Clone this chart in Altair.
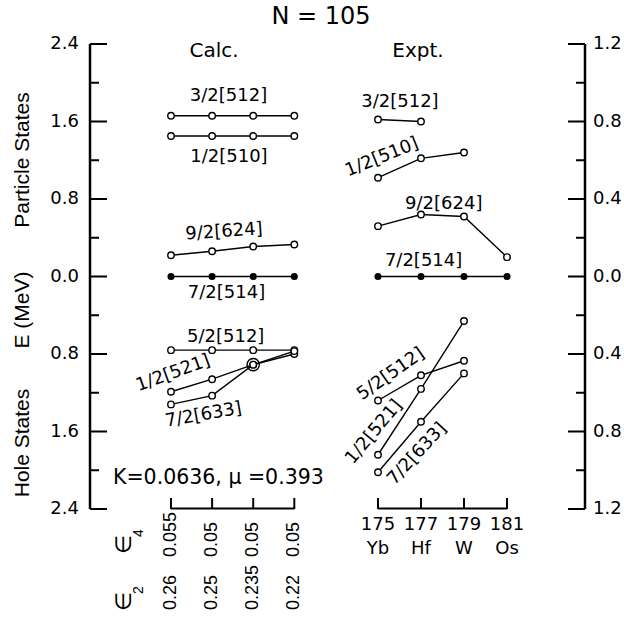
import altair as alt
import pandas as pd

FONT_H = "DejaVu Sans"      # horizontal text
FONT_V = "Liberation Sans"  # rotated text

# ---- columns -------------------------------------------------------------
cols = [0, 1, 2, 3]
eps4 = ["0.055", "0.05", "0.05", "0.05"]
eps2 = ["0.26", "0.25", "0.235", "0.22"]
mass = ["175", "177", "179", "181"]
element = ["Yb", "Hf", "W", "Os"]

states = ["3/2[512]", "1/2[510]", "9/2[624]", "7/2[514]",
          "5/2[512]", "1/2[521]", "7/2[633]"]
ground = "7/2[514]"

# ---- calculated energies (MeV), hole states negative ---------------------
calc_32_512 = [1.66, 1.66, 1.66, 1.66]
calc_12_510 = [1.45, 1.45, 1.45, 1.45]
calc_92_624 = [0.22, 0.26, 0.31, 0.33]
calc_72_514 = [0.0, 0.0, 0.0, 0.0]
calc_52_512 = [-0.76, -0.76, -0.76, -0.76]
calc_12_521 = [-1.19, -1.06, -0.91, -0.80]
calc_72_633 = [-1.32, -1.23, -0.91, -0.77]

# ---- experimental energies (MeV), None = not observed --------------------
expt_32_512 = [0.81, 0.80, None, None]
expt_12_510 = [0.51, 0.61, 0.64, None]
expt_92_624 = [0.26, 0.32, 0.31, 0.10]
expt_72_514 = [0.0, 0.0, 0.0, 0.0]
expt_52_512 = [-0.64, -0.51, -0.435, None]
expt_12_521 = [-0.92, -0.58, -0.23, None]
expt_72_633 = [-1.01, -0.75, -0.50, None]

# ---- axis ticks ----------------------------------------------------------
left_major = [-2.4, -1.6, -0.8, 0.0, 0.8, 1.6, 2.4]
left_minor = [-2.0, -1.2, -0.4, 0.4, 1.2, 2.0]
right_major = [-1.2, -0.8, -0.4, 0.0, 0.4, 0.8, 1.2]
right_minor = [-1.0, -0.6, -0.2, 0.2, 0.6, 1.0]

# ---- label placement (column units, MeV, rotation) -----------------------
calc_label_col = [1.40, 1.41, 1.29, 1.35, 1.33, 0.05, 0.79]
calc_label_E = [1.86, 1.23, 0.46, -0.17, -0.62, -1.00, -1.43]
calc_label_angle = [0, 0, 356, 0, 0, 340, 350]
expt_label_col = [0.51, 0.09, 1.53, 1.06, 0.30, -0.09, 0.91]
expt_label_E = [0.90, 0.615, 0.376, 0.079, -0.504, -0.803, -0.916]
expt_label_angle = [0, 338, 0, 0, 325, 310, 313]

W, H = 495, 465


def long_table(series):
    rows = []
    for s, vals in zip(states, series):
        for c, v in zip(cols, vals):
            if v is not None:
                rows.append({"state": s, "col": c, "E": v})
    return pd.DataFrame(rows)


calc_df = long_table([calc_32_512, calc_12_510, calc_92_624, calc_72_514,
                      calc_52_512, calc_12_521, calc_72_633])
expt_df = long_table([expt_32_512, expt_12_510, expt_92_624, expt_72_514,
                      expt_52_512, expt_12_521, expt_72_633])


def crossings(df):
    g = df.groupby(["col", "E"]).size().reset_index(name="n")
    return g[g["n"] > 1]


def tick_table(major, minor):
    return (pd.DataFrame({"v": major, "lab": [f"{abs(v):.1f}" for v in major]}),
            pd.DataFrame({"v": minor}))


calc_x = alt.Scale(domain=[-1.971, 10.073], nice=False, zero=False)
calc_y = alt.Scale(domain=[-2.4, 2.4], nice=False, zero=False)
expt_x = alt.Scale(domain=[-6.698, 4.814], nice=False, zero=False)
expt_y = alt.Scale(domain=[-1.2, 1.2], nice=False, zero=False)


def panel(df, xs, ys, lab_col, lab_E, lab_ang):
    X = alt.X("col:Q", scale=xs, axis=None)
    Y = alt.Y("E:Q", scale=ys, axis=None)
    lines = alt.Chart(df).mark_line(color="black", strokeWidth=1.4).encode(
        x=X, y=Y, detail="state:N")
    open_pts = alt.Chart(df).transform_filter(
        f"datum.state != '{ground}'").mark_circle(
        size=42, color="white", stroke="black", strokeWidth=1.4, opacity=1).encode(x=X, y=Y)
    full_pts = alt.Chart(df).transform_filter(
        f"datum.state == '{ground}'").mark_circle(
        size=50, color="black", opacity=1).encode(x=X, y=Y)
    layers = [lines, open_pts, full_pts]
    cr = crossings(df)
    if len(cr):
        layers.append(alt.Chart(cr).mark_point(
            shape="circle", size=150, filled=False, color="black",
            strokeWidth=1.4, opacity=1).encode(x=X, y=Y))
    lab = pd.DataFrame({"state": states, "col": lab_col, "E": lab_E, "ang": lab_ang})
    layers.append(alt.Chart(lab).mark_text(
        font=FONT_H, fontSize=18, align="center", baseline="middle", color="black").encode(
        x=X, y=Y, text="state:N", angle=alt.Angle("ang:Q", scale=None)))
    return layers


def axis_layers(major, minor, ys, x_line, tick_dir, label_x, align):
    maj, mino = tick_table(major, minor)
    Yv = alt.Y("v:Q", scale=ys, axis=None)
    return [
        alt.Chart(maj).mark_rule(color="black", strokeWidth=2).encode(
            x=alt.value(x_line), x2=alt.value(x_line + tick_dir * 17), y=Yv),
        alt.Chart(mino).mark_rule(color="black", strokeWidth=2).encode(
            x=alt.value(x_line), x2=alt.value(x_line + tick_dir * 9), y=Yv),
        alt.Chart(maj).mark_text(font=FONT_H, fontSize=18, align=align,
                                 baseline="middle", color="black").encode(
            x=alt.value(label_x), y=Yv, text="lab:N"),
    ]


def bracket(xs):
    ends = pd.DataFrame({"a": [cols[0]], "b": [cols[-1]]})
    ticks = pd.DataFrame({"col": cols})
    return [
        alt.Chart(ends).mark_rule(color="black", strokeWidth=2).encode(
            x=alt.X("a:Q", scale=xs, axis=None), x2="b:Q", y=alt.value(H - 0.5)),
        alt.Chart(ticks).mark_rule(color="black", strokeWidth=2).encode(
            x=alt.X("col:Q", scale=xs, axis=None), y=alt.value(H - 11), y2=alt.value(H)),
    ]


# calculation panel: left energy axis, deformation labels
calc_bottom = pd.DataFrame({"col": cols, "eps4": eps4, "eps2": eps2})
calc_layers = panel(calc_df, calc_x, calc_y, calc_label_col, calc_label_E, calc_label_angle)
calc_layers += axis_layers(left_major, left_minor, calc_y, 0, 1, -11, "right")
calc_layers += bracket(calc_x)
for field, ypos in (("eps4", 513), ("eps2", 566)):
    calc_layers.append(alt.Chart(calc_bottom).mark_text(
        font=FONT_V, fontSize=18, angle=270, align="left", baseline="middle",
        color="black").encode(
        x=alt.X("col:Q", scale=calc_x, axis=None), y=alt.value(ypos), text=f"{field}:N"))
calc_panel = alt.layer(*calc_layers)

# experiment panel: right energy axis, isotope labels
expt_bottom = pd.DataFrame({"col": cols, "mass": mass, "element": element})
expt_layers = panel(expt_df, expt_x, expt_y, expt_label_col, expt_label_E, expt_label_angle)
expt_layers += axis_layers(right_major, right_minor, expt_y, W, -1, W + 8, "left")
expt_layers += bracket(expt_x)
for field, ypos in (("mass", 481), ("element", 505)):
    expt_layers.append(alt.Chart(expt_bottom).mark_text(
        font=FONT_H, fontSize=18, align="center", baseline="middle",
        color="black").encode(
        x=alt.X("col:Q", scale=expt_x, axis=None), y=alt.value(ypos), text=f"{field}:N"))
expt_panel = alt.layer(*expt_layers)

one = alt.Data(values=[{}])


def note(text, x, y, size, angle=0, align="center", font=FONT_H):
    return alt.Chart(one).mark_text(
        text=text, font=font, fontSize=size, angle=angle, align=align,
        baseline="middle", color="black").encode(x=alt.value(x), y=alt.value(y))


frame = [
    alt.Chart(one).mark_rule(color="black", strokeWidth=2.5).encode(
        x=alt.value(0), y=alt.value(0), y2=alt.value(H)),
    alt.Chart(one).mark_rule(color="black", strokeWidth=2.5).encode(
        x=alt.value(W), y=alt.value(0), y2=alt.value(H)),
    note("N = 105", 231, -27, 24),
    note("Calc.", 124, 7, 20),
    note("Expt.", 328, 7, 20),
    note("Particle States", -67, 116, 21, angle=270, font=FONT_V),
    note("E (MeV)", -67, 266, 21, angle=270, font=FONT_V),
    note("Hole States", -67, 399, 21, angle=270, font=FONT_V),
    note("Κ=0.0636,  μ =0.393", 23, 434, 20.5, align="left"),
    note("∈", 34, 510, 22, angle=270, align="left"),
    note("4", 49, 493, 14, angle=270, align="left", font=FONT_V),
    note("∈", 34, 567, 22, angle=270, align="left"),
    note("2", 49, 550, 14, angle=270, align="left", font=FONT_V),
]

chart = alt.layer(calc_panel, expt_panel, *frame).resolve_scale(
    x="independent", y="independent"
).properties(
    width=W, height=H,
    padding={"left": 90, "top": 44, "right": 39, "bottom": 108},
    autosize=alt.AutoSizeParams(type="none"),
).configure_view(stroke=None)

chart.save("out.html", embed_options={"renderer": "svg", "actions": False})
